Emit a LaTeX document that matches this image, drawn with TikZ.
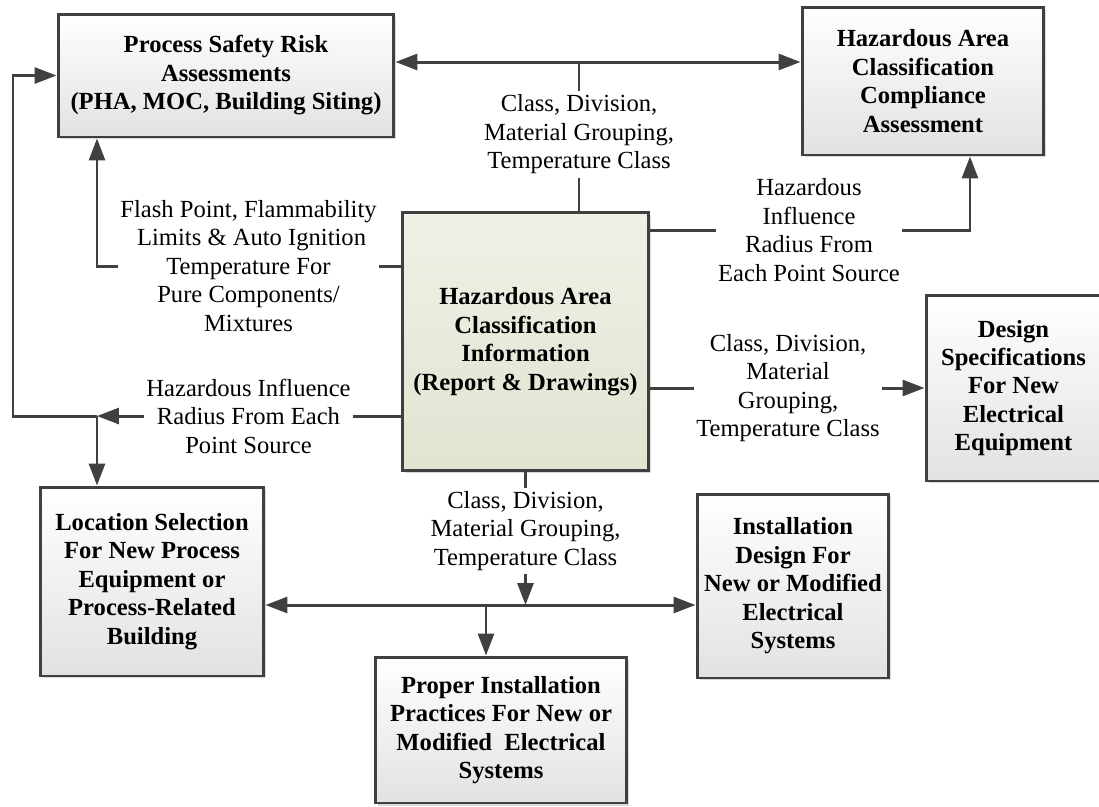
\documentclass[tikz,border=0pt]{standalone}
\usepackage{fontspec}
\setmainfont{Liberation Serif}
\usetikzlibrary{arrows.meta,shadows}
\definecolor{linegray}{HTML}{404040}
\definecolor{boxbot}{HTML}{E2E2E2}
\definecolor{infotop}{HTML}{EFF1E7}
\definecolor{infobot}{HTML}{E0E4D0}

\begin{document}
\begin{tikzpicture}[x=0.02cm, y=-0.02cm,
    font=\fontsize{14}{16.2}\selectfont,
    box/.style={draw=linegray, line width=1.7pt, align=center, inner sep=0pt,
        font=\fontsize{14}{16.2}\selectfont\bfseries,
        top color=white, bottom color=boxbot,
        drop shadow={shadow xshift=0.05cm, shadow yshift=-0.05cm, fill=black, opacity=0.15}},
    mainbox/.style={box, top color=infotop, bottom color=infobot},
    lbl/.style={align=center, inner xsep=1pt, inner ysep=2pt},
    link/.style={draw=linegray, line width=1.7pt},
    arr/.style={link, -{Triangle[length=0.44cm,width=0.32cm]}},
    dbl/.style={link, {Triangle[length=0.44cm,width=0.32cm]}-{Triangle[length=0.44cm,width=0.32cm]}}]
    \useasboundingbox (0,0) rectangle (1099,806);

    \node[box, minimum width=6.72cm, minimum height=2.46cm] (psra) at (226,75.5) {Process Safety Risk\\Assessments\\(PHA, MOC, Building Siting)};
    \node[box, minimum width=4.84cm, minimum height=2.96cm] (comp) at (923,81) {Hazardous Area\\Classification\\Compliance\\Assessment};
    \node[mainbox, minimum width=4.94cm, minimum height=5.18cm] (info) at (525.5,341.5) {Hazardous Area\\Classification\\Information\\(Report \& Drawings)};
    \node[box, minimum width=3.5cm, minimum height=3.72cm] (dspec) at (1013.5,388) {Design\\Specifications\\For New\\Electrical\\Equipment};
    \node[box, minimum width=3.84cm, minimum height=3.68cm] (inst) at (793,586) {Installation\\Design For\\New or Modified\\Electrical\\Systems};
    \node[box, minimum width=4.48cm, minimum height=3.78cm] (loc) at (152,581.5) {Location Selection\\For New Process\\Equipment or\\Process-Related\\Building};
    \node[box, minimum width=5.04cm, minimum height=2.92cm] (prop) at (501,730) {Proper Installation\\Practices For New or\\Modified\ \ Electrical\\Systems};

    \node[lbl] (lblt) at (579,134.5) {Class, Division,\\Material Grouping,\\Temperature Class};
    \node[lbl] (lblfp) at (248.5,266) {Flash Point, Flammability\\\ Limits \& Auto Ignition\\Temperature For\\Pure Components/\\Mixtures};
    \node[lbl] (lblhl) at (248.5,416) {Hazardous Influence\\Radius From Each\\Point Source};
    \node[lbl] (lblhr) at (809,230) {Hazardous\\Influence\\Radius From\\Each Point Source};
    \node[lbl] (lblcr) at (788,388) {Class, Division,\\Material\\Grouping,\\Temperature Class};
    \node[lbl] (lblcb) at (525.5,531) {Class, Division,\\Material Grouping,\\Temperature Class};

    \coordinate (topbus) at (579,62);
    \coordinate (jl) at (97,416);
    \coordinate (bus) at (525.5,605);
    \coordinate (busp) at (486,605);

    \draw[dbl] (psra.east |- topbus) -- (comp.west |- topbus);
    \draw[link] (info.north -| topbus) -- (lblt.south);
    \draw[link] (lblt.north) -- (topbus);

    \draw[link] (info.west |- lblfp) -- (lblfp.east);
    \draw[arr] (lblfp.west) -| (psra.south -| jl);

    \draw[link] (info.west |- lblhl) -- (lblhl.east);
    \draw[arr] (lblhl.west) -- (jl);
    \draw[arr] (jl) -- ++(-84,0) |- (psra.west);
    \draw[arr] (jl) -- (loc.north -| jl);

    \draw[link] (info.east |- lblhr) -- (lblhr.west);
    \draw[arr] (lblhr.east) -| ([xshift=0.94cm]comp.south);

    \draw[link] (info.east |- lblcr) -- (lblcr.west);
    \draw[arr] (lblcr.east) -- (dspec.west |- lblcr);

    \draw[link] (info.south) -- (lblcb.north);
    \draw[arr] (lblcb.south) -- (bus);
    \draw[dbl] (loc.east |- bus) -- (inst.west |- bus);
    \draw[arr] (busp) -- (prop.north -| busp);
\end{tikzpicture}
\end{document}
